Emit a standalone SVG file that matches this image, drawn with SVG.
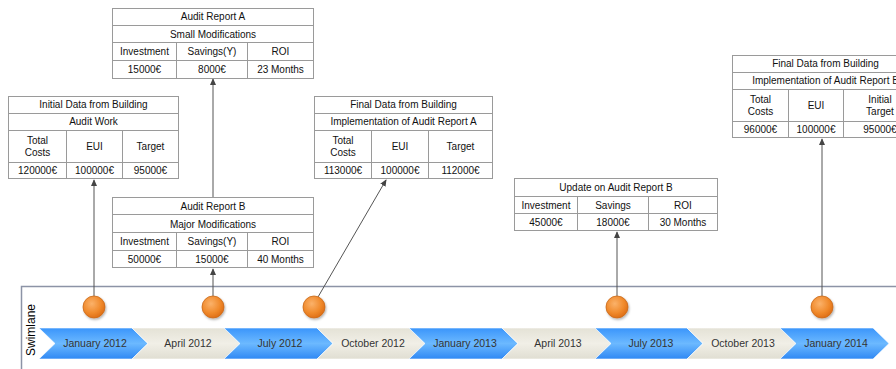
<svg xmlns="http://www.w3.org/2000/svg" width="896" height="369" viewBox="0 0 896 369">
<style>
.tb{fill:#fff;stroke:#9a9a9a;stroke-width:1}
.ln{stroke:#9a9a9a;stroke-width:1;fill:none}
.t{font-family:"Liberation Sans",Arial,sans-serif;font-size:10px;fill:#111;text-anchor:middle}
.tl{font-family:"Liberation Sans",Arial,sans-serif;font-size:10.5px;fill:#333;text-anchor:middle}
.con{stroke:#555;stroke-width:1;fill:none;marker-end:url(#ah)}
.blue{fill:url(#gb);stroke:#fff;stroke-width:0.6}
.beige{fill:url(#gy);stroke:#fff;stroke-width:0.6}
.dot{fill:url(#go);stroke:#c9691c;stroke-width:0.8}
</style>
<defs>
<marker id="ah" viewBox="0 0 8 8" refX="7" refY="4" markerWidth="7" markerHeight="7" markerUnits="userSpaceOnUse" orient="auto">
<path d="M0,0.5 L8,4 L0,7.5 Z" fill="#444"/>
</marker>
<linearGradient id="gb" x1="0" y1="0" x2="0" y2="1">
<stop offset="0" stop-color="#3a95fb"/>
<stop offset="0.5" stop-color="#6cb9ff"/>
<stop offset="1" stop-color="#2f88f4"/>
</linearGradient>
<linearGradient id="gy" x1="0" y1="0" x2="0" y2="1">
<stop offset="0" stop-color="#e4e2d6"/>
<stop offset="0.5" stop-color="#f1efe7"/>
<stop offset="1" stop-color="#e0ded2"/>
</linearGradient>
<radialGradient id="go" cx="0.4" cy="0.35" r="0.7">
<stop offset="0" stop-color="#fbb26a"/>
<stop offset="0.6" stop-color="#f08a2c"/>
<stop offset="1" stop-color="#dc6a12"/>
</radialGradient>
<filter id="sh" x="-30%" y="-30%" width="160%" height="160%">
<feDropShadow dx="1" dy="1.5" stdDeviation="1" flood-color="#000" flood-opacity="0.3"/>
</filter>
</defs>
<rect width="896" height="369" fill="#fff"/>

<g id="swimlane">
<path d="M21.5,369 V286.5 H896" fill="none" stroke="#8c93a6" stroke-width="1.5"/>
<text class="t" transform="translate(35,330) rotate(-90)" style="font-size:12px;fill:#000">Swimlane</text>
</g>

<g id="timeline">
<polygon class="blue" points="39,328 132,328 148,343.5 132,359 39,359 55,343.5"/>
<polygon class="beige" points="132,328 224,328 240,343.5 224,359 132,359 148,343.5"/>
<polygon class="blue" points="224,328 317,328 333,343.5 317,359 224,359 240,343.5"/>
<polygon class="beige" points="317,328 409,328 425,343.5 409,359 317,359 333,343.5"/>
<polygon class="blue" points="409,328 502,328 518,343.5 502,359 409,359 425,343.5"/>
<polygon class="beige" points="502,328 595,328 611,343.5 595,359 502,359 518,343.5"/>
<polygon class="blue" points="595,328 687,328 703,343.5 687,359 595,359 611,343.5"/>
<polygon class="beige" points="687,328 780,328 796,343.5 780,359 687,359 703,343.5"/>
<polygon class="blue" points="780,328 873,328 889,343.5 873,359 780,359 796,343.5"/>
<text class="tl" x="95" y="347">January 2012</text>
<text class="tl" x="188" y="347">April 2012</text>
<text class="tl" x="280" y="347">July 2012</text>
<text class="tl" x="373" y="347">October 2012</text>
<text class="tl" x="465" y="347">January 2013</text>
<text class="tl" x="558" y="347">April 2013</text>
<text class="tl" x="651" y="347">July 2013</text>
<text class="tl" x="743" y="347">October 2013</text>
<text class="tl" x="836" y="347">January 2014</text>
</g>

<g id="connectors">
<line class="con" x1="94" y1="296" x2="94" y2="180"/>
<line class="con" x1="213" y1="296" x2="213" y2="269"/>
<line class="con" x1="213" y1="197" x2="213" y2="79"/>
<line class="con" x1="318" y1="297" x2="386" y2="180"/>
<line class="con" x1="617" y1="296" x2="617" y2="232"/>
<line class="con" x1="822" y1="296" x2="822" y2="139"/>
</g>

<g id="milestones" filter="url(#sh)">
<circle class="dot" cx="94" cy="307" r="11"/>
<circle class="dot" cx="213" cy="307" r="11"/>
<circle class="dot" cx="314" cy="307" r="11"/>
<circle class="dot" cx="617" cy="307" r="11"/>
<circle class="dot" cx="822" cy="307" r="11"/>
</g>

<g id="initial-data">
<rect class="tb" x="8.5" y="96.5" width="170" height="82"/>
<path class="ln" d="M8.5,113.5 H178.5 M8.5,130.5 H178.5 M8.5,162.5 H178.5 M66.5,130.5 V178.5 M122.5,130.5 V178.5"/>
<text class="t" x="93.5" y="108">Initial Data from Building</text>
<text class="t" x="93.5" y="125">Audit Work</text>
<text class="t" x="37.5" y="144">Total</text>
<text class="t" x="37.5" y="156">Costs</text>
<text class="t" x="94.5" y="150">EUI</text>
<text class="t" x="150.5" y="150">Target</text>
<text class="t" x="37.5" y="174">120000€</text>
<text class="t" x="94.5" y="174">100000€</text>
<text class="t" x="150.5" y="174">95000€</text>
</g>

<g id="audit-report-a">
<rect class="tb" x="112.5" y="8.5" width="201" height="70"/>
<path class="ln" d="M112.5,25.5 H313.5 M112.5,42.5 H313.5 M112.5,60.5 H313.5 M176.5,42.5 V78.5 M247.5,42.5 V78.5"/>
<text class="t" x="213" y="20">Audit Report A</text>
<text class="t" x="213" y="37.5">Small Modifications</text>
<text class="t" x="144.5" y="55">Investment</text>
<text class="t" x="212" y="55">Savings(Y)</text>
<text class="t" x="280.5" y="55">ROI</text>
<text class="t" x="144.5" y="73">15000€</text>
<text class="t" x="212" y="73">8000€</text>
<text class="t" x="280.5" y="73">23 Months</text>
</g>

<g id="audit-report-b">
<rect class="tb" x="112.5" y="197.5" width="201" height="70"/>
<path class="ln" d="M112.5,214.5 H313.5 M112.5,232.5 H313.5 M112.5,250.5 H313.5 M176.5,232.5 V267.5 M247.5,232.5 V267.5"/>
<text class="t" x="213" y="209.5">Audit Report B</text>
<text class="t" x="213" y="227.5">Major Modifications</text>
<text class="t" x="144.5" y="245">Investment</text>
<text class="t" x="212" y="245">Savings(Y)</text>
<text class="t" x="280.5" y="245">ROI</text>
<text class="t" x="144.5" y="263">50000€</text>
<text class="t" x="212" y="263">15000€</text>
<text class="t" x="280.5" y="263">40 Months</text>
</g>

<g id="final-data-a">
<rect class="tb" x="314.5" y="96.5" width="178" height="82"/>
<path class="ln" d="M314.5,113.5 H492.5 M314.5,130.5 H492.5 M314.5,162.5 H492.5 M371.5,130.5 V178.5 M428.5,130.5 V178.5"/>
<text class="t" x="403.5" y="108">Final Data from Building</text>
<text class="t" x="403.5" y="125">Implementation of Audit Report A</text>
<text class="t" x="343" y="144">Total</text>
<text class="t" x="343" y="156">Costs</text>
<text class="t" x="400" y="150">EUI</text>
<text class="t" x="460.5" y="150">Target</text>
<text class="t" x="343" y="174">113000€</text>
<text class="t" x="400" y="174">100000€</text>
<text class="t" x="460.5" y="174">112000€</text>
</g>

<g id="update-audit-b">
<rect class="tb" x="514.5" y="178.5" width="203" height="52"/>
<path class="ln" d="M514.5,196.5 H717.5 M514.5,213.5 H717.5 M577.5,196.5 V230.5 M648.5,196.5 V230.5"/>
<text class="t" x="616" y="191">Update on Audit Report B</text>
<text class="t" x="546" y="209">Investment</text>
<text class="t" x="613" y="209">Savings</text>
<text class="t" x="683" y="209">ROI</text>
<text class="t" x="546" y="226">45000€</text>
<text class="t" x="613" y="226">18000€</text>
<text class="t" x="683" y="226">30 Months</text>
</g>

<g id="final-data-b">
<rect class="tb" x="732.5" y="55.5" width="186" height="82"/>
<path class="ln" d="M732.5,72.5 H918.5 M732.5,89.5 H918.5 M732.5,121.5 H918.5 M788.5,89.5 V137.5 M843.5,89.5 V137.5"/>
<text class="t" x="825.5" y="67">Final Data from Building</text>
<text class="t" x="825.5" y="84">Implementation of Audit Report B</text>
<text class="t" x="760.5" y="103">Total</text>
<text class="t" x="760.5" y="115">Costs</text>
<text class="t" x="816" y="109">EUI</text>
<text class="t" x="880" y="103">Initial</text>
<text class="t" x="880" y="115">Target</text>
<text class="t" x="760.5" y="133">96000€</text>
<text class="t" x="816" y="133">100000€</text>
<text class="t" x="880" y="133">95000€</text>
</g>
</svg>
